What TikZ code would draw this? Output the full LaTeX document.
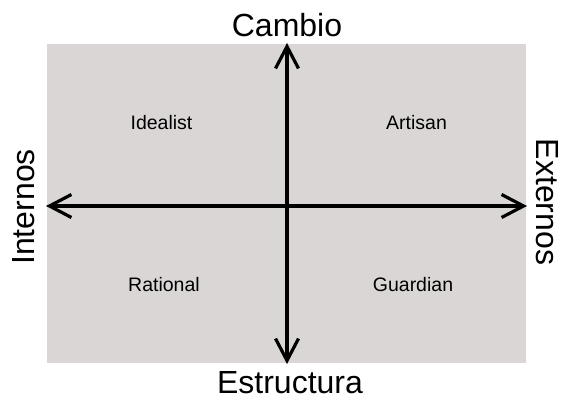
\documentclass[tikz,border=0pt]{standalone}
\usepackage{fontspec}
\setmainfont{Liberation Sans}
\usetikzlibrary{arrows.meta}
\definecolor{quadgray}{RGB}{218,214,214}

\begin{document}
\begin{tikzpicture}
  [x=1pt,y=-1pt,>={Straight Barb[length=22pt,width=23pt]},
   every node/.style={inner sep=0pt,anchor=base},
   axis/.style={<->,line width=3.2pt},
   axlabel/.style={font=\fontsize{32}{38}\selectfont,text height=23pt,text depth=0pt},
   quad/.style={font=\fontsize{19.5}{23}\selectfont}]
  \useasboundingbox (0,0) rectangle (561,399);

  \fill[quadgray] (47,44) rectangle (526,363);

  \coordinate (w) at (46,206);
  \coordinate (e) at (527,206);
  \coordinate (n) at (287,43);
  \coordinate (s) at (287,364);

  \draw[axis] (w) -- (e);
  \draw[axis] (s) -- (n);

  \node[axlabel] (cambio) at (287,36)     {Cambio};
  \node[axlabel] (estructura) at (290,393) {Estructura};
  \node[axlabel,rotate=90] (internos) at (34,207)  {Internos};
  \node[axlabel,rotate=-90] (externos) at (536,202) {Externos};

  \node[quad] (idealist) at (161.5,129) {Idealist};
  \node[quad] (artisan)  at (416.5,129) {Artisan};
  \node[quad] (rational) at (164,291.5) {Rational};
  \node[quad] (guardian) at (413,291.5) {Guardian};

\end{tikzpicture}
\end{document}
